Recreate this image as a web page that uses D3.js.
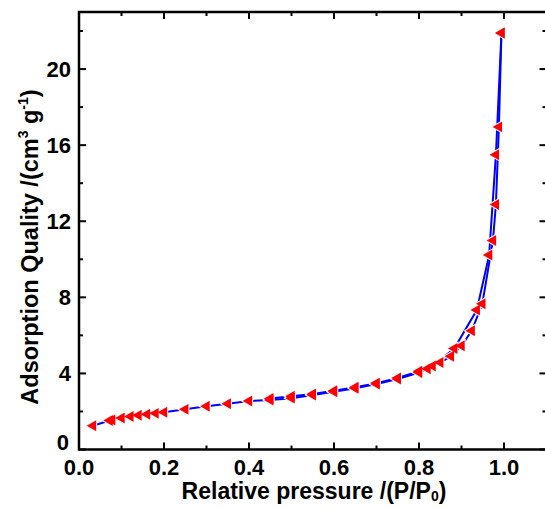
<!DOCTYPE html>
<meta charset="utf-8">
<style>
  body { margin: 0; background: #fff; }
  svg text { font-family: Arial, "Liberation Sans", sans-serif; font-weight: bold; fill: #000; }
</style>
<div id="chart"></div>
<script src="https://cdn.jsdelivr.net/npm/d3@7/dist/d3.min.js"></script>
<script>
    // adsorption branch (P/P0, quantity)
    var adsP = [0.033, 0.072, 0.078, 0.10, 0.121, 0.14, 0.16, 0.18, 0.20, 0.25, 0.30, 0.35, 0.40,
                0.45, 0.50, 0.55, 0.60, 0.65, 0.70, 0.75, 0.80, 0.85, 0.875, 0.90, 0.924, 0.949,
                0.974, 0.981, 0.988, 0.994];
    var adsQ = [1.25, 1.52, 1.55, 1.66, 1.73, 1.80, 1.85, 1.90, 1.96, 2.11, 2.27, 2.41, 2.55,
                2.60, 2.70, 2.86, 3.04, 3.22, 3.44, 3.71, 4.05, 4.57, 4.90, 5.45, 6.24, 7.66,
                10.99, 12.88, 16.96, 21.9];
    // desorption branch
    var desP = [0.994, 0.981, 0.965, 0.936, 0.883, 0.832, 0.82, 0.80, 0.75, 0.70, 0.65, 0.60, 0.55, 0.50, 0.45];
    var desQ = [21.9, 15.5, 10.22, 7.33, 5.31, 4.39, 4.24, 4.12, 3.76, 3.49, 3.27, 3.09, 2.92, 2.80, 2.68];

    var xTicks = [0, 0.2, 0.4, 0.6, 0.8, 1.0];
    var xMinor = [0.1, 0.3, 0.5, 0.7, 0.9];
    var yTicks = [0, 4, 8, 12, 16, 20];
    var yMinor = [2, 6, 10, 14, 18, 22];

    var margin = {top: 12, left: 79, right: 0, bottom: 60};
    var W = 545, H = 509;

    var x = d3.scaleLinear().domain([0, 1.1]).range([margin.left, margin.left + 1.1 * 425]);
    var y = d3.scaleLinear().domain([0, 23]).range([449.5, margin.top]);

    var svg = d3.select('#chart').append('svg')
        .attr('width', W).attr('height', H);

    var ads = adsP.map((p, i) => [p, adsQ[i]]);
    var des = desP.map((p, i) => [p, desQ[i]]);

    var line = d3.line().x(d => x(d[0])).y(d => y(d[1]));

    svg.selectAll('.branch')
        .data([ads, des])
        .enter().append('path')
        .attr('class', 'branch')
        .attr('d', line)
        .attr('fill', 'none')
        .attr('stroke', '#0000ff')
        .attr('stroke-width', 2);

    var all = ads.concat(des);
    var tri = d3.symbol().type(d3.symbolTriangle);

    // white gap round the symbols, then the symbols
    svg.selectAll('.gap')
        .data(all)
        .enter().append('path')
        .attr('class', 'gap')
        .attr('d', tri.size(90)())
        .attr('fill', '#fff')
        .attr('transform', d => 'translate(' + x(d[0]) + ',' + y(d[1]) + ') rotate(-90)');

    svg.selectAll('.pt')
        .data(all)
        .enter().append('path')
        .attr('class', 'pt')
        .attr('d', tri.size(52)())
        .attr('fill', '#ff0000')
        .attr('transform', d => 'translate(' + x(d[0]) + ',' + y(d[1]) + ') rotate(-90)');

    // frame
    var x0 = x(0), x1 = x(1.1), y0 = y(0), y1 = y(23);
    svg.append('rect')
        .attr('x', x0).attr('y', y1)
        .attr('width', x1 - x0).attr('height', y0 - y1)
        .attr('fill', 'none').attr('stroke', '#000').attr('stroke-width', 2.5);

    // ticks, pointing inward
    var tk = svg.append('g').attr('stroke', '#000').attr('stroke-width', 2);
    xTicks.forEach(v => {
        tk.append('line').attr('x1', x(v)).attr('x2', x(v)).attr('y1', y0).attr('y2', y0 - 7);
        tk.append('line').attr('x1', x(v)).attr('x2', x(v)).attr('y1', y1).attr('y2', y1 + 7);
    });
    xMinor.forEach(v => {
        tk.append('line').attr('x1', x(v)).attr('x2', x(v)).attr('y1', y0).attr('y2', y0 - 4);
        tk.append('line').attr('x1', x(v)).attr('x2', x(v)).attr('y1', y1).attr('y2', y1 + 4);
    });
    yTicks.forEach(v => {
        tk.append('line').attr('x1', x0).attr('x2', x0 + 7).attr('y1', y(v)).attr('y2', y(v));
        tk.append('line').attr('x1', x1).attr('x2', x1 - 7).attr('y1', y(v)).attr('y2', y(v));
    });
    yMinor.forEach(v => {
        tk.append('line').attr('x1', x0).attr('x2', x0 + 4).attr('y1', y(v)).attr('y2', y(v));
        tk.append('line').attr('x1', x1).attr('x2', x1 - 4).attr('y1', y(v)).attr('y2', y(v));
    });

    // tick labels
    svg.selectAll('.xl')
        .data(xTicks)
        .enter().append('text')
        .attr('class', 'xl')
        .attr('x', d => x(d))
        .attr('y', 475)
        .attr('text-anchor', 'middle')
        .attr('font-size', 22)
        .text(d => d.toFixed(1));

    svg.selectAll('.yl')
        .data(yTicks)
        .enter().append('text')
        .attr('class', 'yl')
        .attr('x', d => d === 0 ? 69 : 71)
        .attr('y', d => y(d) + (d === 0 ? 0 : 8))
        .attr('text-anchor', 'end')
        .attr('font-size', 22)
        .text(d => d);

    // axis titles
    var xt = svg.append('text')
        .attr('x', 314).attr('y', 499)
        .attr('text-anchor', 'middle')
        .attr('font-size', 23);
    xt.append('tspan').text('Relative pressure /(P/P');
    xt.append('tspan').attr('font-size', 14).attr('dy', 2).text('0');
    xt.append('tspan').attr('dy', -2).text(')');

    var yt = svg.append('text')
        .attr('transform', 'translate(38,247) rotate(-90)')
        .attr('text-anchor', 'middle')
        .attr('font-size', 23.5);
    yt.append('tspan').text('Adsorption Quality /(cm');
    yt.append('tspan').attr('font-size', 14).attr('dy', -10).text('3');
    yt.append('tspan').attr('dy', 10).text(' g');
    yt.append('tspan').attr('font-size', 14).attr('dy', -10).text('-1');
    yt.append('tspan').attr('dy', 10).text(')');
</script>
